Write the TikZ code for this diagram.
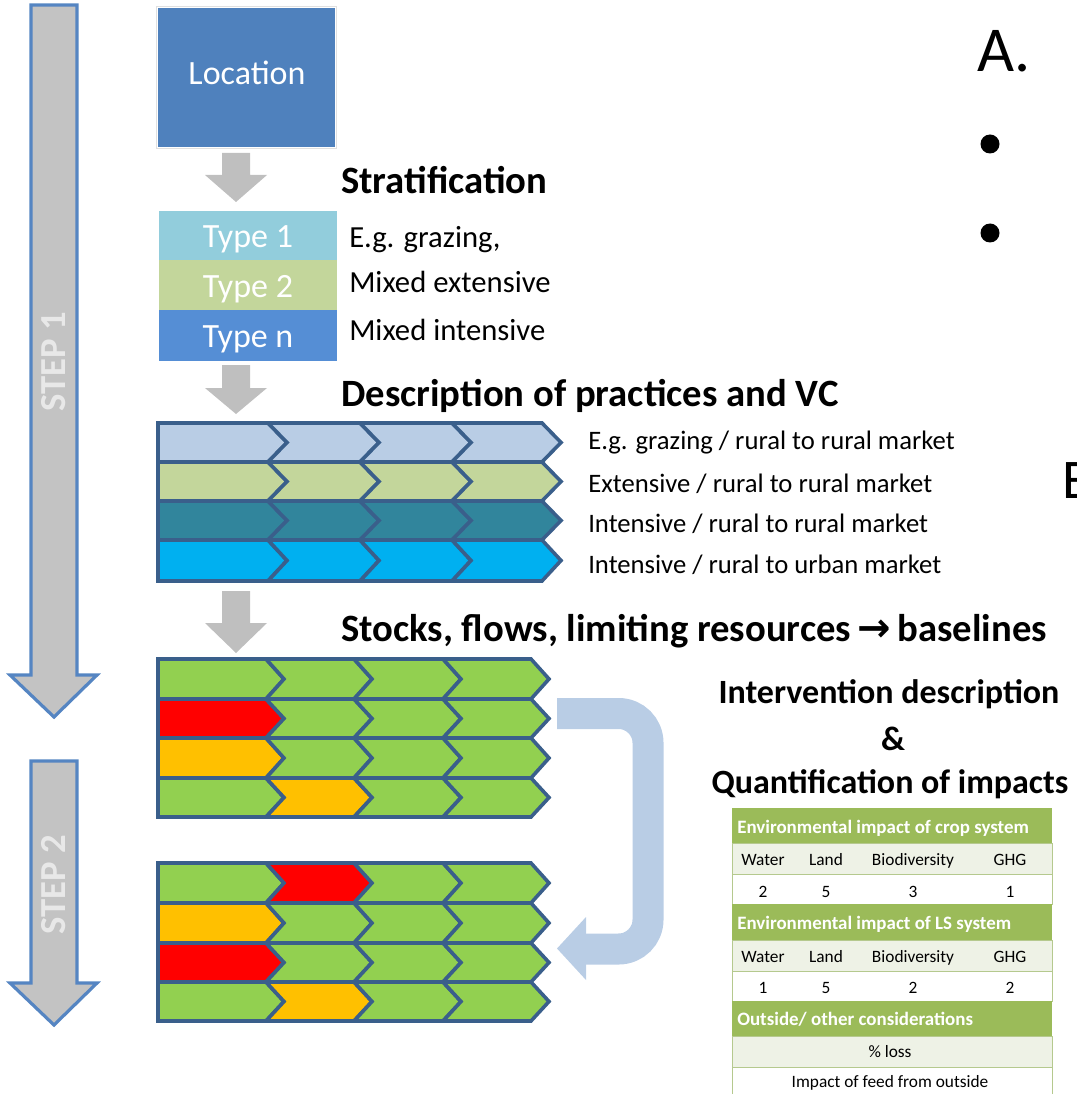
\documentclass[tikz,border=0pt]{standalone}
\usepackage{fontspec}
\setmainfont{Carlito}
\newfontfamily\symfnt{DejaVu Sans}
\definecolor{locblue}{HTML}{4F81BD}
\definecolor{tOne}{HTML}{92CDDC}
\definecolor{tTwo}{HTML}{C3D69B}
\definecolor{tN}{HTML}{558ED5}
\definecolor{rOne}{HTML}{B9CDE5}
\definecolor{rTwo}{HTML}{C3D69B}
\definecolor{rThree}{HTML}{31859C}
\definecolor{rFour}{HTML}{00B0F0}
\definecolor{chevline}{HTML}{3A5F8B}
\definecolor{gG}{HTML}{92D050}
\definecolor{gR}{HTML}{FF0000}
\definecolor{gO}{HTML}{FFC000}
\definecolor{uturn}{HTML}{B9CDE5}
\definecolor{stepfill}{HTML}{C3C3C3}
\definecolor{stepline}{HTML}{5585C2}
\definecolor{steptext}{HTML}{E8E8E8}
\definecolor{arrgray}{HTML}{BFBFBF}
\definecolor{thead}{HTML}{9BBB59}
\definecolor{tlight}{HTML}{EEF2E6}
\definecolor{tborder}{HTML}{B5C98E}

% chevron helpers
\newcommand\chvFirst[3]{\filldraw[chev,fill=#3] (\bA,#1) -- (\bB,#1) -- ({\bB+\dd},{(#1+#2)/2}) -- (\bB,#2) -- (\bA,#2) -- cycle;}
\newcommand\chvNext[5]{\filldraw[chev,fill=#5] (#1,#3) -- (#2,#3) -- ({#2+\dd},{(#3+#4)/2}) -- (#2,#4) -- (#1,#4) -- ({#1+\dd},{(#3+#4)/2}) -- cycle;}
\newcommand\chvRow[6]{\chvFirst{#1}{#2}{#3}\chvNext{\bB}{\bC}{#1}{#2}{#4}\chvNext{\bC}{\bD}{#1}{#2}{#5}\chvNext{\bD}{\bE}{#1}{#2}{#6}}
\newcommand\grayArr[3]{\fill[arrgray] (222,#1) -- (250,#1) -- (250,#2) -- (267,#2) -- (236,#3) -- (205,#2) -- (222,#2) -- cycle;}

\begin{document}
\begin{tikzpicture}[x=0.75pt,y=-0.75pt,
  chev/.style={draw=chevline,line width=2.7pt,line join=miter},
  titletxt/.style={font=\bfseries\fontsize{29}{34}\selectfont,anchor=base west,inner sep=0},
  sidetxt/.style={font=\fontsize{23}{27}\selectfont,anchor=base west,inner sep=0},
  lbltxt/.style={font=\fontsize{20}{24}\selectfont,anchor=base west,inner sep=0},
  typetxt/.style={font=\fontsize{25.5}{30}\selectfont,text=white,anchor=base,inner sep=0},
  righttitle/.style={font=\bfseries\fontsize{25.5}{30}\selectfont,anchor=base,inner sep=0},
  hdrtxt/.style={font=\bfseries\fontsize{14.2}{17}\selectfont,text=white,anchor=base west,inner sep=0},
  celltxt/.style={font=\fontsize{13}{16}\selectfont,anchor=base,inner sep=0},
  steptxt/.style={font=\bfseries\fontsize{27.5}{32}\selectfont,text=steptext,rotate=90,inner sep=0},
  steparrow/.style={fill=stepfill,draw=stepline,line width=2.4pt,line join=miter}]
\useasboundingbox (0,0) rectangle (1076,1094);
\clip (0,0) rectangle (1076,1094);

% STEP arrows
\filldraw[steparrow] (31,5) -- (77,5) -- (77,675) -- (97,675) -- (54,717) -- (10,675) -- (31,675) -- cycle;
\node[steptxt] (step1) at (54,362) {STEP 1};
\filldraw[steparrow] (31,761) -- (77,761) -- (77,983) -- (97,983) -- (54,1025) -- (10,983) -- (31,983) -- cycle;
\node[steptxt] (step2) at (54,885) {STEP 2};

% Location box
\draw[draw=black!12,line width=0.8pt] (156.5,6.5) rectangle (336.5,148.5);
\fill[locblue] (158,8) rectangle (335,147);
\node[typetxt] (loc) at (247,85) {Location};

\grayArr{153}{175}{202}

% Stratification
\node[titletxt] (strat) at (341,194) {Stratification};
\fill[tOne] (159,211) rectangle (337,260);
\fill[tTwo] (159,260) rectangle (337,310);
\fill[tN] (159,310) rectangle (337,361);
\node[typetxt] (type1) at (248,248) {Type 1};
\node[typetxt] (type2) at (248,298) {Type 2};
\node[typetxt] (typen) at (248,348) {Type n};
\node[sidetxt] (s1) at (349,248) {E.g. grazing,};
\node[sidetxt] (s2) at (349,293) {Mixed extensive};
\node[sidetxt] (s3) at (349,340) {Mixed intensive};

\grayArr{365}{388}{414}

% Description of practices
\node[titletxt] (desc) at (341,406) {Description of practices and VC};
\def\bA{158}\def\bB{268}\def\bC{360}\def\bD{452}\def\bE{542}\def\dd{19}
\chvRow{423}{462}{rOne}{rOne}{rOne}{rOne}
\chvRow{462}{501}{rTwo}{rTwo}{rTwo}{rTwo}
\chvRow{501}{540}{rThree}{rThree}{rThree}{rThree}
\chvRow{540}{581}{rFour}{rFour}{rFour}{rFour}
\node[lbltxt] (l1) at (588,449) {E.g. grazing / rural to rural market};
\node[lbltxt] (l2) at (588,492) {Extensive / rural to rural market};
\node[lbltxt] (l3) at (588,532) {Intensive / rural to rural market};
\node[lbltxt] (l4) at (588,573) {Intensive / rural to urban market};

\grayArr{591}{623}{653}

% Stocks, flows
\node[titletxt] (stocks) at (341,641) {Stocks, flows, limiting resources\,{\symfnt\fontsize{30}{34}\selectfont →}\,baselines};
\def\bA{158}\def\bB{266}\def\bC{354}\def\bD{443}\def\bE{531}\def\dd{18}
\chvRow{659}{699}{gG}{gG}{gG}{gG}
\chvRow{699}{738}{gR}{gG}{gG}{gG}
\chvRow{738}{778}{gO}{gG}{gG}{gG}
\chvRow{778}{817}{gG}{gO}{gG}{gG}

\chvRow{863}{903}{gG}{gR}{gG}{gG}
\chvRow{903}{943}{gO}{gG}{gG}{gG}
\chvRow{943}{982}{gR}{gG}{gG}{gG}
\chvRow{982}{1021}{gG}{gO}{gG}{gG}

% U-turn arrow
\draw[uturn,line width=23.25pt,rounded corners=22pt] (557,713.5) -- (648,713.5) -- (648,949) -- (585,949);
\fill[uturn] (586,917) -- (557,948.5) -- (586,980) -- cycle;

% Right titles
\node[righttitle] (interv) at (889,703) {Intervention description};
\node[righttitle] (amp) at (893,750) {\&};
\node[righttitle] (quant) at (890,793) {Quantification of impacts};

% Table
\fill[thead] (732,808) rectangle (1052,843);
\filldraw[fill=tlight,draw=tborder,line width=0.75pt] (732,843) rectangle (1052,874);
\filldraw[fill=white,draw=tborder,line width=0.75pt] (732,874) rectangle (1052,904);
\fill[thead] (732,904) rectangle (1052,940);
\filldraw[fill=tlight,draw=tborder,line width=0.75pt] (732,940) rectangle (1052,971);
\filldraw[fill=white,draw=tborder,line width=0.75pt] (732,971) rectangle (1052,1001);
\fill[thead] (732,1001) rectangle (1052,1036);
\filldraw[fill=tlight,draw=tborder,line width=0.75pt] (732,1036) rectangle (1052,1067);
\filldraw[fill=white,draw=tborder,line width=0.75pt] (732,1067) rectangle (1052,1100);

\node[hdrtxt] (h1) at (737,833) {Environmental impact of crop system};
\node[celltxt] (c11) at (763,865) {Water};
\node[celltxt] (c12) at (826,865) {Land};
\node[celltxt] (c13) at (913,865) {Biodiversity};
\node[celltxt] (c14) at (1010,865) {GHG};
\node[celltxt] (v11) at (763,897) {2};
\node[celltxt] (v12) at (826,897) {5};
\node[celltxt] (v13) at (913,897) {3};
\node[celltxt] (v14) at (1010,897) {1};
\node[hdrtxt] (h2) at (737,929) {Environmental impact of LS system};
\node[celltxt] (c21) at (763,962) {Water};
\node[celltxt] (c22) at (826,962) {Land};
\node[celltxt] (c23) at (913,962) {Biodiversity};
\node[celltxt] (c24) at (1010,962) {GHG};
\node[celltxt] (v21) at (763,993) {1};
\node[celltxt] (v22) at (826,993) {5};
\node[celltxt] (v23) at (913,993) {2};
\node[celltxt] (v24) at (1010,993) {2};
\node[hdrtxt] (h3) at (737,1025) {Outside/ other considerations};
\node[celltxt] (loss) at (890,1057) {\% loss};
\node[celltxt] (feed) at (890,1087) {Impact of feed from outside};

% Right edge fragments
\node[font=\fontsize{48}{56}\selectfont,anchor=base west,inner sep=0] (A) at (977,72) {A.};
\fill (990,144) circle (9.5);
\fill (990,233) circle (9.5);
\node[font=\fontsize{42}{50}\selectfont,anchor=base west,inner sep=0] (E) at (1062,498) {E};
\end{tikzpicture}
\end{document}
